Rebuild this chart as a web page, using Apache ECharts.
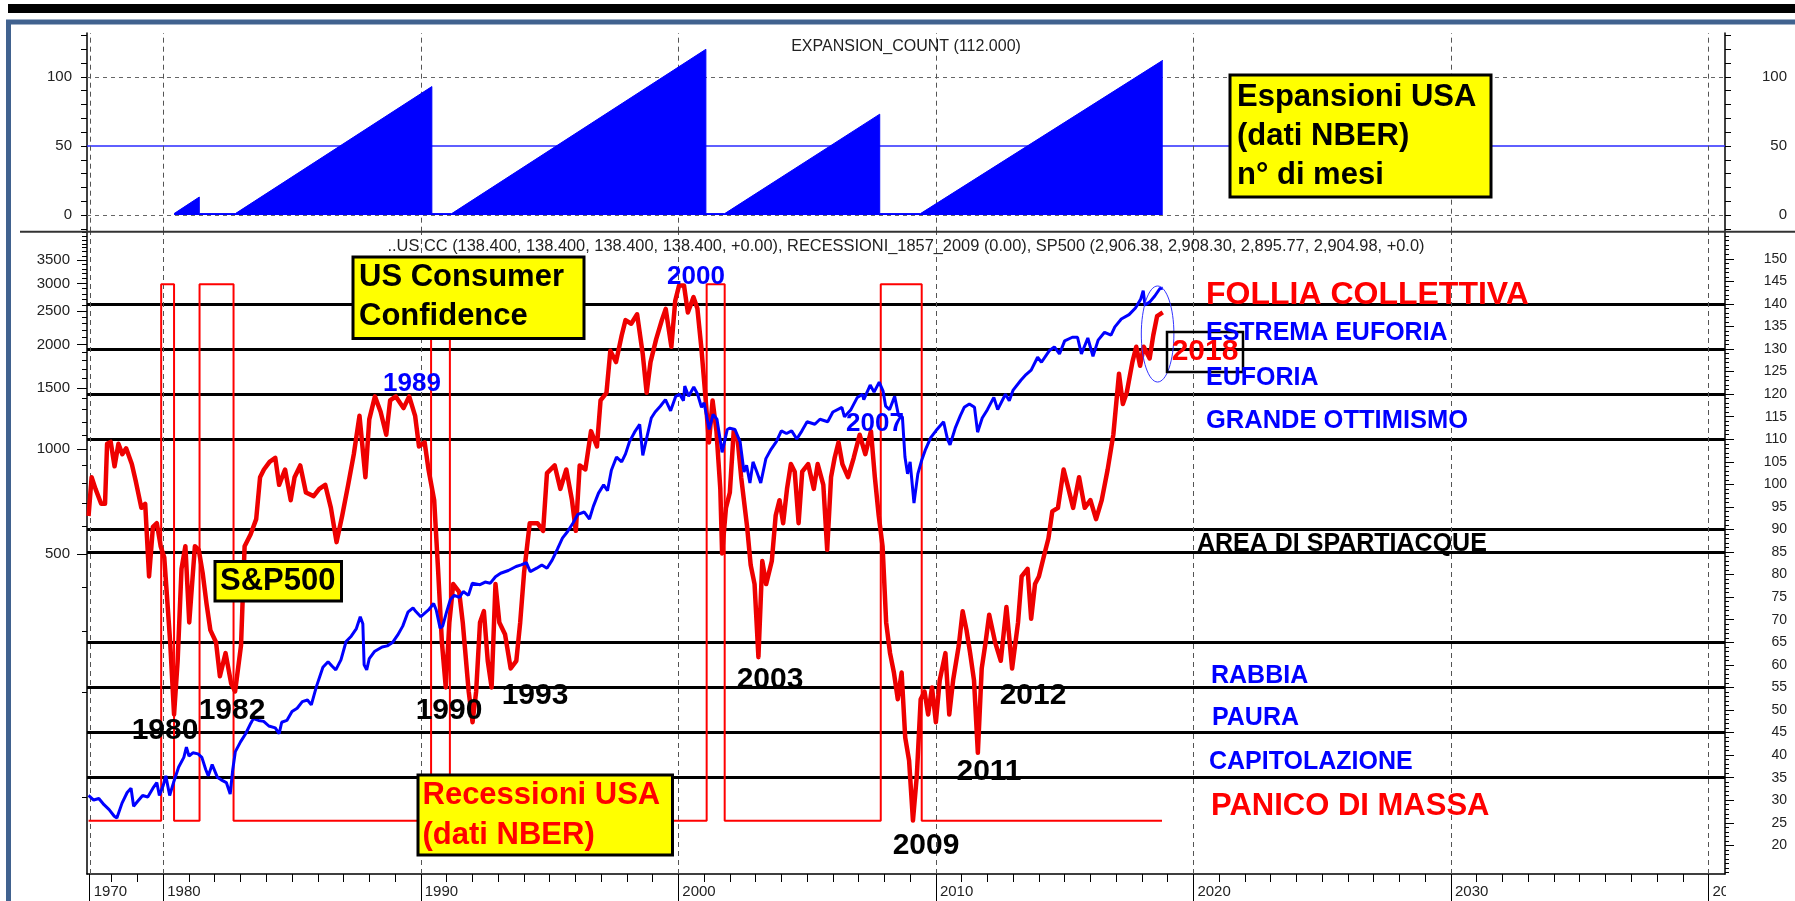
<!DOCTYPE html>
<html>
<head>
<meta charset="utf-8">
<title>Espansioni USA - US Consumer Confidence - S&amp;P500</title>
<script src="https://cdn.jsdelivr.net/npm/echarts@6/dist/echarts.min.js"></script>
<style>
html, body { margin: 0; padding: 0; background: #fff; }
#main { width: 1795px; height: 901px; }
</style>
</head>
<body>
<div id="main"></div>
<script>
// asse del tempo in anni decimali (la prima etichetta "1970" cade sul primo dato)
let xMin = 1977.04, xMax = 2040.64;
let decadeTicks = [1977.146, 1980, 1990, 2000, 2010, 2020, 2030, 2040];
let decadeLabels = ['1970', '1980', '1990', '2000', '2010', '2020', '2030', '2040'];

// EXPANSION_COUNT (NBER), n° di mesi
let expYears = [1980.42, 1981.40, 1981.40, 1982.80, 1990.43, 1990.43, 1991.20, 2001.07, 2001.07, 2001.80, 2007.82, 2007.82, 2009.40, 2018.81];
let expMonths = [1, 13, 1, 1, 93, 1, 1, 120, 1, 1, 73, 1, 1, 112];

// recessioni NBER [inizio, fine]
let recessions = [[1979.92, 1980.42], [1981.41, 1982.73], [1990.40, 1991.13], [2001.10, 2001.80], [2007.86, 2009.45]];
let recFrom = 1977.10, recTo = 2018.78;

// US Consumer Confidence
let ccYears = [
    1977.10,1977.22,1977.37,1977.59,1977.74,1977.82,1977.96,1978.11,1978.26,1978.41,
    1978.56,1978.78,1978.93,1979.15,1979.30,1979.45,1979.60,1979.75,1979.90,1980.04,
    1980.27,1980.42,1980.56,1980.71,1980.86,1981.01,1981.08,1981.23,1981.38,1981.53,
    1981.68,1981.83,1982.05,1982.20,1982.42,1982.64,1982.79,1983.02,1983.16,1983.39,
    1983.61,1983.76,1983.91,1984.13,1984.35,1984.50,1984.73,1984.95,1985.10,1985.32,
    1985.54,1985.84,1986.06,1986.29,1986.51,1986.73,1986.95,1987.18,1987.40,1987.62,
    1987.85,1988.00,1988.22,1988.44,1988.66,1988.81,1989.03,1989.33,1989.55,1989.78,
    1989.93,1990.15,1990.30,1990.52,1990.67,1990.82,1990.97,1991.11,1991.26,1991.49,
    1991.63,1991.86,1992.01,1992.15,1992.30,1992.45,1992.60,1992.75,1992.90,1993.05,
    1993.27,1993.49,1993.71,1993.86,1994.01,1994.23,1994.53,1994.75,1994.90,1995.20,
    1995.42,1995.65,1995.87,1996.02,1996.17,1996.39,1996.61,1996.84,1996.98,1997.21,
    1997.36,1997.58,1997.80,1997.95,1998.17,1998.40,1998.62,1998.77,1998.92,1999.14,
    1999.36,1999.51,1999.73,1999.88,2000.03,2000.22,2000.37,2000.59,2000.74,2000.89,
    2001.04,2001.19,2001.33,2001.48,2001.63,2001.70,2001.85,2002.00,2002.15,2002.30,
    2002.44,2002.67,2002.81,2002.96,2003.11,2003.26,2003.41,2003.63,2003.78,2003.93,
    2004.07,2004.22,2004.37,2004.52,2004.67,2004.81,2005.04,2005.26,2005.41,2005.63,
    2005.78,2005.93,2006.07,2006.22,2006.37,2006.59,2006.81,2007.04,2007.26,2007.48,
    2007.63,2007.78,2007.93,2008.07,2008.22,2008.37,2008.52,2008.67,2008.81,2008.96,
    2009.11,2009.26,2009.41,2009.56,2009.70,2009.85,2010.00,2010.15,2010.37,2010.52,
    2010.67,2010.89,2011.04,2011.19,2011.33,2011.48,2011.63,2011.78,2011.93,2012.07,
    2012.30,2012.52,2012.74,2012.96,2013.19,2013.33,2013.56,2013.70,2013.85,2014.00,
    2014.22,2014.37,2014.52,2014.74,2014.96,2015.11,2015.33,2015.56,2015.78,2016.00,
    2016.22,2016.44,2016.67,2016.89,2017.11,2017.26,2017.41,2017.63,2017.78,2017.93,
    2018.07,2018.30,2018.44,2018.59,2018.81
];
let ccValues = [
    93,101.6,99,95.7,95.7,109,109.4,104,109,106.7,
    108,104.5,100.8,94.8,95.7,79.6,90.6,91.4,86.3,83.8,
    65,49,60.9,81.3,86.3,69.4,69.4,86.3,85.5,80.4,
    73.6,67.7,65,57.5,62.6,55.8,54.1,64.3,86.3,88.9,
    92.3,101.6,103.3,105,105.9,99.9,103.3,96.5,101.6,104.2,
    98.2,97.4,99,99.9,94.8,87.2,93.1,99.9,106.7,115.2,
    101.6,114.4,119.5,116.1,111,118.6,119.5,116.9,119.5,115.2,
    108.4,109.3,103.3,96.5,81.3,65,55,69.4,77.9,76.2,
    69.4,54.1,47.3,54.1,69.4,71.9,60.9,55,77.9,69.4,
    66.8,59.2,60.9,69.4,80.4,91.4,91.4,89.7,102.5,104.2,
    99,103.3,96.5,89.7,104.2,103.3,111.8,108.4,118.6,120.3,
    129.6,127.1,133,136.4,135.6,137.7,128.8,120.3,127.1,132.2,
    136.4,138.9,130.5,140.7,144.1,144.1,138.1,141.5,139,130.5,
    120.3,109.3,118.6,111.8,99,84.7,94.8,98.2,111.8,110.1,
    101.6,90.6,82.1,77.9,61.7,83,77.9,83,93.1,96.5,
    91.4,99,104.5,102.8,91.4,102.8,104.5,99,104.5,99.9,
    85.5,101.6,105.9,109.3,104.5,101.6,105.9,111,106.7,111.8,
    101.6,93.1,86.3,69.4,62.6,58.3,52.4,58.3,43.9,38.8,
    25.5,35.4,52.4,54.1,49,55,47.3,56.6,62.6,49,
    56.6,64.3,71.9,67.7,62.6,56.6,40.5,59.2,65,71.1,
    65,60.9,72.8,59.2,69.4,79.6,81.3,70.2,77.9,79.6,
    84.7,88,94,94.8,103.3,99.9,94.8,101.6,94.8,96.5,
    92.3,96.5,103.3,111,124.5,117.8,120.3,127.1,130.5,126.3,
    130.5,127.9,133,137.3,138.1
];

// S&P500
let spYears = [
    1977.10,1977.30,1977.50,1977.70,1977.90,1978.10,1978.20,1978.40,1978.60,1978.75,
    1978.85,1979.00,1979.20,1979.40,1979.60,1979.75,1979.85,1980.00,1980.10,1980.25,
    1980.40,1980.60,1980.80,1980.90,1981.00,1981.15,1981.35,1981.50,1981.65,1981.75,
    1981.90,1982.10,1982.25,1982.45,1982.60,1982.70,1982.80,1983.00,1983.20,1983.40,
    1983.50,1983.70,1983.90,1984.10,1984.35,1984.50,1984.60,1984.80,1985.00,1985.20,
    1985.40,1985.60,1985.75,1985.95,1986.20,1986.40,1986.55,1986.70,1986.90,1987.10,
    1987.30,1987.50,1987.65,1987.75,1987.80,1987.90,1988.00,1988.20,1988.50,1988.70,
    1988.90,1989.10,1989.30,1989.50,1989.70,1989.80,1990.00,1990.10,1990.30,1990.50,
    1990.60,1990.75,1990.85,1991.00,1991.15,1991.30,1991.50,1991.65,1991.85,1992.00,
    1992.30,1992.50,1992.70,1992.90,1993.10,1993.40,1993.70,1993.90,1994.10,1994.25,
    1994.50,1994.70,1994.90,1995.10,1995.30,1995.50,1995.70,1995.90,1996.10,1996.35,
    1996.55,1996.70,1996.90,1997.10,1997.25,1997.40,1997.60,1997.80,1997.95,1998.10,
    1998.30,1998.50,1998.62,1998.80,1998.95,1999.10,1999.30,1999.50,1999.70,1999.90,
    2000.05,2000.20,2000.25,2000.40,2000.60,2000.75,2000.90,2001.00,2001.20,2001.35,
    2001.50,2001.70,2001.90,2002.00,2002.20,2002.40,2002.55,2002.65,2002.78,2002.90,
    2003.05,2003.20,2003.40,2003.60,2003.80,2004.00,2004.20,2004.40,2004.60,2004.80,
    2005.00,2005.30,2005.50,2005.80,2006.00,2006.35,2006.45,2006.70,2006.95,2007.15,
    2007.20,2007.45,2007.60,2007.80,2007.95,2008.05,2008.20,2008.40,2008.55,2008.70,
    2008.80,2008.90,2009.00,2009.15,2009.30,2009.45,2009.60,2009.80,2010.00,2010.30,
    2010.45,2010.55,2010.75,2010.95,2011.10,2011.30,2011.50,2011.62,2011.80,2012.00,
    2012.25,2012.40,2012.70,2012.85,2013.00,2013.30,2013.50,2013.70,2013.95,2014.10,
    2014.40,2014.60,2014.80,2015.00,2015.30,2015.50,2015.65,2015.90,2016.10,2016.30,
    2016.55,2016.80,2016.95,2017.20,2017.50,2017.75,2017.95,2018.05,2018.12,2018.30,
    2018.50,2018.70,2018.81
];
let spValues = [
    101,98,99,95,92,88,87,96,103,106,
    94,97,101,100,106,110,101,108,115,101,
    110,122,130,139,131,134,133,130,120,115,
    124,114,112,110,102,120,135,144,152,163,
    168,166,165,160,158,152,164,166,176,180,
    188,190,184,208,236,245,238,232,248,280,
    290,305,330,315,240,232,250,262,270,272,
    278,292,310,340,350,342,330,335,345,360,
    345,306,310,340,370,380,375,390,380,412,
    408,415,412,430,440,448,460,465,472,445,
    455,465,455,480,515,555,580,612,650,660,
    630,685,748,790,760,870,950,920,970,1050,
    1120,1180,960,1100,1230,1280,1330,1390,1290,1420,
    1440,1380,1520,1420,1510,1440,1320,1360,1140,1260,
    1220,980,1140,1150,1140,1050,860,900,800,920,
    860,800,940,1000,1050,1130,1110,1130,1070,1130,
    1200,1180,1220,1200,1280,1320,1240,1300,1410,1440,
    1390,1530,1460,1560,1470,1330,1300,1420,1250,1240,
    950,850,920,700,850,930,1000,1080,1130,1200,
    1070,1030,1150,1250,1320,1350,1320,1120,1230,1300,
    1410,1300,1440,1380,1480,1580,1640,1690,1840,1780,
    1920,1970,1880,2050,2100,2100,1880,2090,1850,2060,
    2170,2130,2250,2370,2440,2550,2700,2860,2600,2650,
    2760,2900,2905
];

// livelli delle fasce (scala destra) e etichette degli assi
let zoneLevels = [140, 130, 120, 110, 90, 85, 65, 55, 45, 35];
let rightLabels = [20, 25, 30, 35, 40, 45, 50, 55, 60, 65, 70, 75, 80, 85, 90, 95, 100, 105, 110, 115, 120, 125, 130, 135, 140, 145, 150];
let leftLabels = [500, 1000, 1500, 2000, 2500, 3000, 3500];
let expLabels = [0, 50, 100];

let FONT = '"Liberation Sans", Arial, sans-serif';

function zip(xs, ys) {
    return xs.map(function (x, i) { return [x, ys[i]]; });
}

let expData = zip(expYears, expMonths);
let ccData = zip(ccYears, ccValues);
let spData = zip(spYears, spValues);

let recData = [[recFrom, 0]];
recessions.forEach(function (r) {
    recData.push([r[0], 0], [r[0], 1], [r[1], 1], [r[1], 0]);
});
recData.push([recTo, 0]);

// tacche degli assi
let yearTicks = [];
for (let y = 1978; y <= 2040; y++) yearTicks.push(y);
let expTicks = [];
for (let v = -10; v <= 130; v += 10) expTicks.push(v);
let rightMinor = [];
for (let v = 14; v <= 156; v++) rightMinor.push(v);
let leftMinor = [];
for (let v = 100; v <= 4200; v += 100) leftMinor.push(Math.log(v));

let spMin = 60.04, spMax = 4225;

let decadeLines = decadeTicks.map(function (v) {
    return { xAxis: v, lineStyle: { color: '#555', width: 1, type: [5, 4] } };
});

function yearName(v) {
    for (let i = 0; i < decadeTicks.length; i++) {
        if (Math.abs(decadeTicks[i] - v) < 0.01) return decadeLabels[i];
    }
    return '';
}

function txt(text, x, y, color, size, align) {
    return {
        type: 'text', x: x, y: y, z: 100, silent: true,
        style: {
            text: text, fill: color, font: 'bold ' + size + 'px ' + FONT,
            align: align || 'center', verticalAlign: 'middle'
        }
    };
}

function box(x, y, w, h, text, color, tx, ty, lh) {
    return [
        { type: 'rect', z: 100, silent: true, shape: { x: x, y: y, width: w, height: h },
          style: { fill: '#ffff00', stroke: '#000', lineWidth: 3 } },
        { type: 'text', z: 101, silent: true, x: tx, y: ty,
          style: { text: text, fill: color, font: 'bold 31px ' + FONT, align: 'left',
                   verticalAlign: 'top', lineHeight: lh } }
    ];
}

let axisFont = { color: '#222', fontSize: 15, fontFamily: FONT };

let chart = echarts.init(document.getElementById('main'));
let option = {
    backgroundColor: '#fff',
    animation: false,
    grid: [
        { left: 87, right: 70, top: 33, height: 198.7 },
        { left: 87, right: 70, top: 231.7, height: 642.3 }
    ],
    xAxis: [
        { gridIndex: 0, type: 'value', min: xMin, max: xMax, show: false },
        {
            gridIndex: 1, type: 'value', min: xMin, max: xMax, position: 'bottom',
            axisLine: { onZero: false, lineStyle: { color: '#000', width: 1.5 } },
            axisTick: { customValues: yearTicks, length: 8, lineStyle: { color: '#000' } },
            axisLabel: Object.assign({ customValues: decadeTicks, formatter: yearName, align: 'left',
                margin: 10, padding: [0, 0, 0, 4] }, axisFont),
            splitLine: { show: false }
        },
        {
            gridIndex: 1, type: 'value', min: xMin, max: xMax, position: 'bottom',
            axisLine: { show: false, onZero: false },
            axisTick: { customValues: decadeTicks, length: 27, lineStyle: { color: '#000' } },
            axisLabel: { show: false },
            splitLine: { show: false }
        }
    ],
    yAxis: [
        {
            gridIndex: 0, type: 'value', position: 'left', min: -12.1, max: 131.8,
            axisLine: { show: true, onZero: false, lineStyle: { color: '#000', width: 1.5 } },
            axisTick: { show: true, customValues: expTicks, length: 6, lineStyle: { color: '#000' } },
            axisLabel: Object.assign({ customValues: expLabels, margin: 15 }, axisFont),
            splitLine: { show: false }
        },
        {
            gridIndex: 0, type: 'value', position: 'right', min: -12.1, max: 131.8,
            axisLine: { show: true, onZero: false, lineStyle: { color: '#000', width: 1.5 } },
            axisTick: { show: true, customValues: expTicks, length: 6, lineStyle: { color: '#000' } },
            axisLabel: Object.assign({ customValues: expLabels, margin: 62, align: 'right' }, axisFont),
            splitLine: { show: false }
        },
        {
            gridIndex: 1, type: 'log', position: 'left', min: spMin, max: spMax,
            axisLine: { show: true, onZero: false, lineStyle: { color: '#000', width: 1.5 } },
            axisTick: { show: false }, axisLabel: { show: false }, splitLine: { show: false }
        },
        {
            gridIndex: 1, type: 'value', position: 'left', min: Math.log(spMin), max: Math.log(spMax),
            axisLine: { show: false, onZero: false },
            axisTick: { show: true, customValues: leftMinor, length: 5, lineStyle: { color: '#000' } },
            axisLabel: Object.assign({
                customValues: leftLabels.map(function (v) { return Math.log(v); }),
                formatter: function (v) { return String(Math.round(Math.exp(v))); },
                margin: 17
            }, axisFont),
            splitLine: { show: false }
        },
        {
            gridIndex: 1, type: 'value', position: 'left', min: Math.log(spMin), max: Math.log(spMax),
            axisLine: { show: false, onZero: false },
            axisTick: { show: true, customValues: leftLabels.map(function (v) { return Math.log(v); }),
                length: 10, lineStyle: { color: '#000' } },
            axisLabel: { show: false }, splitLine: { show: false }
        },
        {
            gridIndex: 1, type: 'value', position: 'right', min: 13.65, max: 156.0,
            axisLine: { show: true, onZero: false, lineStyle: { color: '#000', width: 1.5 } },
            axisTick: { show: true, customValues: rightMinor, length: 4, lineStyle: { color: '#000' } },
            axisLabel: Object.assign({ customValues: rightLabels, margin: 62, align: 'right' }, axisFont, { fontSize: 14 }),
            splitLine: { show: false }
        },
        {
            gridIndex: 1, type: 'value', position: 'right', min: 13.65, max: 156.0,
            axisLine: { show: false, onZero: false },
            axisTick: { show: true, customValues: rightLabels, length: 9, lineStyle: { color: '#000' } },
            axisLabel: { show: false }, splitLine: { show: false }
        },
        { gridIndex: 1, type: 'value', min: -0.0992, max: 1.098, show: false }
    ],
    series: [
        {
            name: 'EXPANSION_COUNT', type: 'line', xAxisIndex: 0, yAxisIndex: 0,
            data: expData, symbol: 'none', z: 2,
            lineStyle: { color: '#0000ff', width: 1 },
            areaStyle: { color: '#0000ff', opacity: 1 },
            markLine: {
                silent: true, symbol: ['none', 'none'], z: 1, label: { show: false },
                data: [
                    { yAxis: 100, lineStyle: { color: '#666', width: 1, type: [4, 4] } },
                    { yAxis: 0, lineStyle: { color: '#666', width: 1, type: [4, 4] } },
                    { yAxis: 50, lineStyle: { color: '#2a2aff', width: 1.5, type: 'solid' } }
                ].concat(decadeLines)
            }
        },
        {
            name: 'RECESSIONI', type: 'line', xAxisIndex: 1, yAxisIndex: 7,
            data: recData, symbol: 'none', z: 2,
            lineStyle: { color: '#ff0000', width: 2 }
        },
        {
            name: 'US CC', type: 'line', xAxisIndex: 1, yAxisIndex: 5,
            data: ccData, symbol: 'none', z: 3,
            lineStyle: { color: '#ee0000', width: 4.5, join: 'round' },
            markLine: {
                silent: true, symbol: ['none', 'none'], z: 1, label: { show: false },
                data: zoneLevels.map(function (v) {
                    return { yAxis: v, lineStyle: { color: '#000', width: 3, type: 'solid' } };
                }).concat(decadeLines)
            }
        },
        {
            name: 'SP500', type: 'line', xAxisIndex: 1, yAxisIndex: 2,
            data: spData, symbol: 'none', z: 4,
            lineStyle: { color: '#0000ff', width: 3 }
        }
    ],
    graphic: [
        { type: 'rect', z: 100, silent: true, shape: { x: 8, y: 4, width: 1800, height: 9 }, style: { fill: '#000' } },
        { type: 'rect', z: 100, silent: true, shape: { x: 8.5, y: 22, width: 1800, height: 900 },
          style: { fill: 'none', stroke: '#41628f', lineWidth: 5 } },
        { type: 'line', z: 100, silent: true, shape: { x1: 20, y1: 231.7, x2: 1795, y2: 231.7 },
          style: { stroke: '#333', lineWidth: 2 } },
        { type: 'rect', z: 100, silent: true, shape: { x: 1726, y: 877, width: 69, height: 24 }, style: { fill: '#fff' } },
        { type: 'text', z: 100, silent: true, x: 906, y: 47,
          style: { text: 'EXPANSION_COUNT (112.000)', fill: '#222', font: '16px ' + FONT, align: 'center', verticalAlign: 'middle' } },
        { type: 'text', z: 100, silent: true, x: 906, y: 246,
          style: { text: '..US CC (138.400, 138.400, 138.400, 138.400, +0.00), RECESSIONI_1857_2009 (0.00), SP500 (2,906.38, 2,908.30, 2,895.77, 2,904.98, +0.0)',
                   fill: '#222', font: '16.4px ' + FONT, align: 'center', verticalAlign: 'middle' } },

        // riquadri gialli
        ...box(1230, 75, 261, 122, 'Espansioni USA\n(dati NBER)\nn° di mesi', '#000', 1237, 77.5, 39),
        ...box(353, 257, 231, 81.5, 'US Consumer\nConfidence', '#000', 359, 257.5, 39.5),
        ...box(215, 561.5, 126.5, 39.5, 'S&P500', '#000', 220, 561.5, 39.5),
        ...box(418, 775, 254.5, 80, 'Recessioni USA\n(dati NBER)', '#ff0000', 422.5, 775, 40),

        // anni
        txt('1989', 412, 384, '#0000ff', 26),
        txt('2000', 696, 277, '#0000ff', 26),
        txt('2007', 875, 424, '#0000ff', 26),
        txt('1980', 165, 731, '#000', 30),
        txt('1982', 232, 711, '#000', 30),
        txt('1990', 449, 711, '#000', 30),
        txt('1993', 535, 696, '#000', 30),
        txt('2003', 770, 680, '#000', 30),
        txt('2009', 926, 846, '#000', 30),
        txt('2011', 989, 772, '#000', 30),
        txt('2012', 1033, 696, '#000', 30),

        // 2018
        { type: 'ellipse', z: 100, silent: true, shape: { cx: 1157.6, cy: 334, rx: 16.3, ry: 48 },
          style: { fill: 'none', stroke: '#3333ff', lineWidth: 1 } },
        { type: 'rect', z: 100, silent: true, shape: { x: 1167, y: 332, width: 76, height: 40 },
          style: { fill: 'none', stroke: '#000', lineWidth: 2.5 } },
        txt('2018', 1205, 352, '#ff0000', 30),

        // fasce
        txt('FOLLIA COLLETTIVA', 1206, 295, '#ff0000', 32, 'left'),
        txt('ESTREMA EUFORIA', 1206, 333, '#0000ff', 25, 'left'),
        txt('EUFORIA', 1206, 378, '#0000ff', 25, 'left'),
        txt('GRANDE OTTIMISMO', 1206, 421, '#0000ff', 25.5, 'left'),
        txt('AREA DI SPARTIACQUE', 1197, 544, '#000', 25, 'left'),
        txt('RABBIA', 1211, 676, '#0000ff', 25, 'left'),
        txt('PAURA', 1212, 718, '#0000ff', 25, 'left'),
        txt('CAPITOLAZIONE', 1209, 762.5, '#0000ff', 25, 'left'),
        txt('PANICO DI MASSA', 1211, 806, '#ff0000', 31, 'left')
    ]
};
chart.setOption(option);
</script>
</body>
</html>
